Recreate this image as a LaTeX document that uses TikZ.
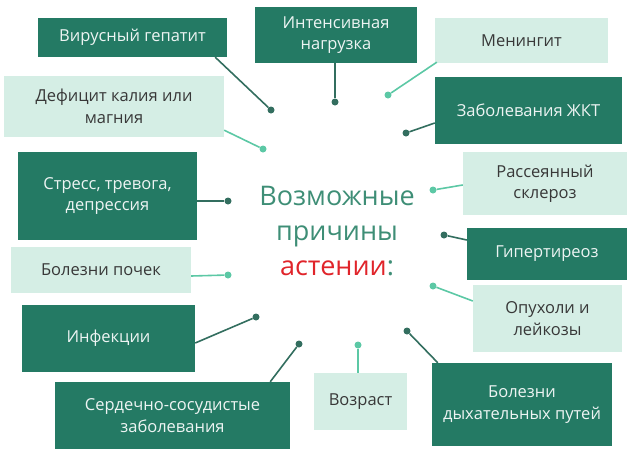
\documentclass[tikz,border=0pt]{standalone}
\usepackage{fontspec}
\setmainfont{Open Sans}
\definecolor{darkbox}{HTML}{247A64}
\definecolor{lightbox}{HTML}{D5EEE5}
\definecolor{darkline}{HTML}{336E5F}
\definecolor{lightline}{HTML}{5CC8A5}
\definecolor{titlegreen}{HTML}{3E8E76}
\definecolor{titlered}{HTML}{E0242A}
\tikzset{
  dark/.style={fill=darkbox, text=white!92!darkbox},
  light/.style={fill=lightbox, text=black!78},
  ddot/.style={circle, fill=darkline, inner sep=0pt, minimum size=7pt},
  ldot/.style={circle, fill=lightline, inner sep=0pt, minimum size=7pt}
}
\begin{document}
\begin{tikzpicture}[x=1pt,y=-1pt]

      \useasboundingbox (0,0) rectangle (640,458);

      \begin{scope}[every node/.style={align=center, inner sep=0pt, font=\fontsize{16.5}{21.5}\selectfont}]
        \node[dark,  minimum width=189, minimum height=39] (1)  at (132.5,37.5) {Вирусный гепатит};
        \node[dark,  minimum width=162, minimum height=56] (2)  at (336,35)     {Интенсивная\\нагрузка};
        \node[light, minimum width=173, minimum height=45] (3)  at (521.5,40.5) {Менингит};
        \node[light, minimum width=220, minimum height=61] (4)  at (114,106.5)  {Дефицит калия или\\магния};
        \node[dark,  minimum width=187, minimum height=67] (5)  at (528.5,110.5) {Заболевания ЖКТ};
        \node[dark,  minimum width=179, minimum height=88] (6)  at (107.5,196)  {Стресс, тревога,\\депрессия};
        \node[light, minimum width=164, minimum height=63] (7)  at (545,183.5)  {Рассеянный\\склероз};
        \node[light, minimum width=180, minimum height=46] (8)  at (101,270)    {Болезни почек};
        \node[dark,  minimum width=160, minimum height=52] (9)  at (547,254)    {Гипертиреоз};
        \node[dark,  minimum width=173, minimum height=67] (10) at (108.5,338.5) {Инфекции};
        \node[light, minimum width=149, minimum height=67] (11) at (547.5,318.5) {Опухоли и\\лейкозы};
        \node[dark,  minimum width=235, minimum height=67] (12) at (172.5,415.5) {Сердечно-сосудистые\\заболевания};
        \node[light, minimum width=93,  minimum height=57] (13) at (360.5,401.5) {Возраст};
        \node[dark,  minimum width=180, minimum height=83] (14) at (522,404.5)  {Болезни\\дыхательных путей};
      \end{scope}

      \node[align=center, text=titlegreen, font=\fontsize{27}{35}\selectfont] (0) at (337,231)
        {Возможные\\причины\\\textcolor{titlered}{астении}:};

      % dots round the title
      \node[ddot]  (15) at (271,110) {};
      \node[ddot]  (16) at (335,102) {};
      \node[ldot]  (17) at (388,95)  {};
      \node[ldot]  (18) at (263,149) {};
      \node[ddot]  (19) at (406,133) {};
      \node[ddot]  (20) at (228,201) {};
      \node[ldot]  (21) at (433,190) {};
      \node[ldot]  (22) at (228,275) {};
      \node[ddot]  (23) at (444,235) {};
      \node[ddot]  (24) at (256,317) {};
      \node[ldot]  (25) at (433,286) {};
      \node[ddot]  (26) at (299,344) {};
      \node[ldot]  (27) at (358,345) {};
      \node[ddot]  (28) at (407,331) {};

      \begin{scope}[line width=1.6pt]
        \path[draw=darkline]  (15) edge ([xshift=-12pt]1.south east);
        \path[draw=darkline]  (16) edge ([xshift=-1pt]2.south);
        \path[draw=lightline] (17) edge ([xshift=2pt,yshift=1pt]3.south west);
        \path[draw=lightline] (18) edge ([yshift=7pt]4.south east);
        \path[draw=darkline]  (19) edge ([yshift=-12.5pt]5.west);
        \path[draw=darkline]  (20) edge ([yshift=-5pt]6.east);
        \path[draw=lightline] (21) edge ([yshift=-1.5pt]7.west);
        \path[draw=lightline] (22) edge ([yshift=-6pt]8.east);
        \path[draw=darkline]  (23) edge ([yshift=14pt]9.west);
        \path[draw=darkline]  (24) edge ([yshift=-4.5pt]10.east);
        \path[draw=lightline] (25) edge ([yshift=17.5pt]11.west);
        \path[draw=darkline]  (26) edge ([xshift=-20pt]12.north east);
        \path[draw=lightline] (27) edge ([xshift=-2.5pt]13.north);
        \path[draw=darkline]  (28) edge ([xshift=6pt]14.north west);
      \end{scope}

    \end{tikzpicture}
\end{document}
